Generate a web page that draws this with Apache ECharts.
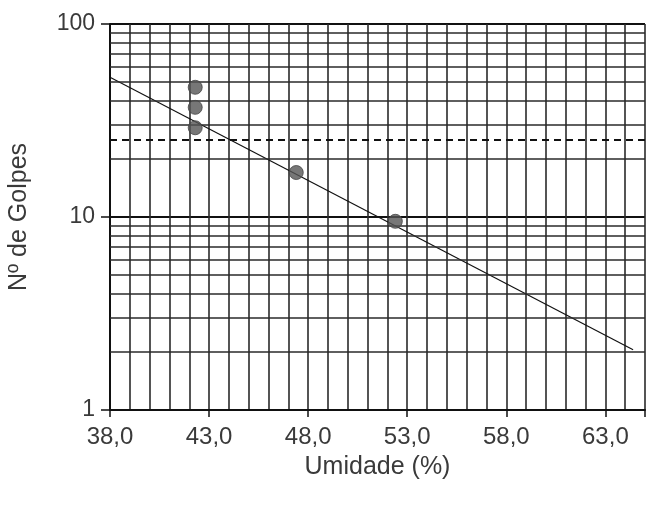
<!DOCTYPE html>
<html>
<head>
<meta charset="utf-8">
<script src="https://cdn.jsdelivr.net/npm/echarts@6/dist/echarts.min.js"></script>
<style>html,body{margin:0;padding:0;background:#fff}#c{width:655px;height:510px}</style>
</head>
<body>
<div id="c"></div>
<script>
// Data
const pointX = [42.3, 42.3, 42.3, 47.4, 52.4];
const pointY = [47, 37, 29, 17, 9.5];
const trendX = [38.0, 64.4];
const trendY = [53, 2.05];
const minorLines = [2, 3, 4, 5, 6, 7, 8, 9, 20, 30, 40, 50, 60, 70, 80, 90];
const refLine = 25;
const xTickLabels = [38, 43, 48, 53, 58, 63];

const chart = echarts.init(document.getElementById('c'));
const font = 'Liberation Sans, Arial, sans-serif';
const gridColor = '#2a2a2a';
const txt = '#3a3a3a';
chart.setOption({
  animation: false,
  backgroundColor: '#fff',
  grid: { left: 110, right: 10, top: 24, bottom: 100, outerBoundsMode: 'none', containLabel: false },
  xAxis: [
    {
      type: 'value', min: 38, max: 65, interval: 1,
      axisLine: { show: true, lineStyle: { color: '#111', width: 2 } },
      axisTick: { show: false }, axisLabel: { show: false },
      splitLine: { show: true, lineStyle: { color: gridColor, width: 1.6 } }
    },
    {
      type: 'value', min: 38, max: 65, interval: 5, position: 'bottom',
      axisLine: { show: false },
      axisTick: { show: true, length: 7, lineStyle: { color: '#111', width: 1.5 } },
      axisLabel: {
        margin: 15, fontSize: 24, color: txt, fontFamily: font,
        formatter: v => xTickLabels.indexOf(v) >= 0 ? v.toFixed(1).replace('.', ',') : ''
      },
      splitLine: { show: false },
      name: 'Umidade (%)', nameLocation: 'middle', nameGap: 45,
      nameTextStyle: { fontSize: 25, color: txt, fontFamily: font }
    }
  ],
  yAxis: {
    type: 'log', logBase: 10, min: 1, max: 100,
    axisLine: { show: true, lineStyle: { color: '#111', width: 2 } },
    axisTick: { show: true, length: 9, lineStyle: { color: '#111', width: 1.5 } },
    axisLabel: { margin: 15, fontSize: 23, color: txt, fontFamily: font },
    splitLine: { show: true, lineStyle: { color: '#111', width: 1.8 } },
    name: 'Nº de Golpes', nameLocation: 'middle', nameGap: 78,
    nameTextStyle: { fontSize: 25, color: txt, fontFamily: font }
  },
  series: [
    {
      type: 'line', data: trendX.map((x, i) => [x, trendY[i]]),
      symbol: 'none', lineStyle: { color: '#111', width: 1.2 }, silent: true,
      markLine: {
        silent: true, symbol: 'none', label: { show: false },
        lineStyle: { color: gridColor, width: 1.6, type: 'solid' },
        data: minorLines.map(v => ({ yAxis: v }))
          .concat([{ yAxis: refLine, lineStyle: { type: [7, 5], width: 1.8, color: '#111' } }])
      }
    },
    {
      type: 'scatter', data: pointX.map((x, i) => [x, pointY[i]]),
      symbolSize: 14, itemStyle: { color: '#555', borderColor: '#444', borderWidth: 1 }, z: 5
    }
  ]
});
</script>
</body>
</html>
